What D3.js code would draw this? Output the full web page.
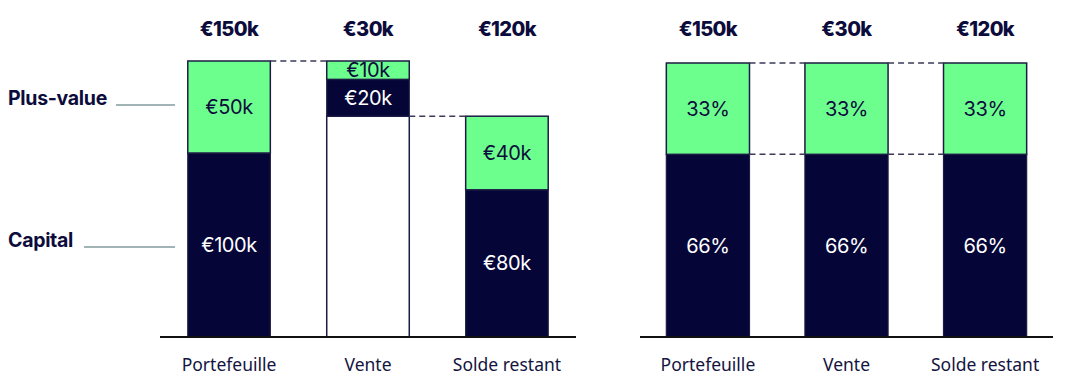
<!DOCTYPE html>
<html><head><meta charset="utf-8">
<script src="https://cdn.jsdelivr.net/npm/d3@7"></script>
<style>body{margin:0;background:#fff;}svg{display:block;}</style>
</head><body>
<svg id="c" width="1068" height="388"></svg>
<script>
const categories = ["Portefeuille", "Vente", "Solde restant"];
const totals = ["€150k", "€30k", "€120k"];
const baseValues = [0, 120, 0];
const capitalValues = [100, 20, 80];
const plusValues = [50, 10, 40];
const capitalLabels = ["€100k", "€20k", "€80k"];
const plusLabels = ["€50k", "€10k", "€40k"];
const capitalShare = [66, 66, 66];
const plusShare = [33, 33, 33];
const shareLabelsCap = ["66%", "66%", "66%"];
const shareLabelsPlus = ["33%", "33%", "33%"];
const seriesNames = ["Plus-value", "Capital"];

const GREEN = "#6cff8e", NAVY = "#050538", STROKE = "#1c1c44", TXT = "#0c0c3c";
const svg = d3.select("#c");
const baseY = 337;

function drawChart(cfg) {
  const x = d3.scaleBand().domain(categories).range(cfg.xr).paddingInner(cfg.pi).paddingOuter(cfg.po);
  const y = d3.scaleLinear().domain([0, cfg.max]).range([baseY, cfg.top]);
  const g = svg.append("g");
  const rows = categories.map((c, i) => {
    const b = cfg.base[i], cap = cfg.cap[i], pl = cfg.plus[i];
    return {c, i, b, cap, pl, y0: b, y1: b + cap, y2: b + cap + pl};
  });
  rows.filter(d => d.b > 0).forEach(d => {
    g.append("rect").attr("x", x(d.c)).attr("width", x.bandwidth())
      .attr("y", y(d.b)).attr("height", y(0) - y(d.b))
      .attr("fill", "#fff").attr("stroke", STROKE).attr("stroke-width", 1.5);
  });
  rows.forEach(d => {
    g.append("rect").attr("x", x(d.c)).attr("width", x.bandwidth())
      .attr("y", y(d.y1)).attr("height", y(d.y0) - y(d.y1))
      .attr("fill", NAVY).attr("stroke", STROKE).attr("stroke-width", 1.2);
  });
  rows.forEach(d => {
    g.append("rect").attr("x", x(d.c)).attr("width", x.bandwidth())
      .attr("y", y(d.y2)).attr("height", y(d.y1) - y(d.y2))
      .attr("fill", GREEN).attr("stroke", STROKE).attr("stroke-width", 1.5);
  });
  rows.forEach(d => {
    const cx = x(d.c) + x.bandwidth() / 2;
    g.append("text").attr("x", cx).attr("y", (y(d.y0) + y(d.y1)) / 2 + 7)
      .attr("text-anchor", "middle").attr("fill", "#fff")
      .style("font", "400 20px Inter, 'DejaVu Sans', sans-serif").style("letter-spacing", "-0.4px").text(cfg.capLabels[d.i]);
    g.append("text").attr("x", cx).attr("y", (y(d.y1) + y(d.y2)) / 2 + 7)
      .attr("text-anchor", "middle").attr("fill", TXT)
      .style("font", "400 20px Inter, 'DejaVu Sans', sans-serif").style("letter-spacing", "-0.4px").text(cfg.plusLabels[d.i]);
    g.append("text").attr("x", cx).attr("y", 36)
      .attr("text-anchor", "middle").attr("fill", TXT)
      .style("font", "800 20px Inter, 'DejaVu Sans', sans-serif").style("letter-spacing", "-0.6px").text(totals[d.i]);
  });
  cfg.connectors.forEach(([i, lvl]) => {
    g.append("line").attr("x1", x(categories[i]) + x.bandwidth()).attr("x2", x(categories[i + 1]))
      .attr("y1", y(lvl)).attr("y2", y(lvl))
      .attr("stroke", "#3a3a58").attr("stroke-width", 1.5).attr("stroke-dasharray", "6,4");
  });
  const ax = g.append("g").attr("transform", `translate(0,${baseY})`)
    .call(d3.axisBottom(x).tickSize(0).tickPadding(22));
  ax.select(".domain").attr("stroke", "#111").attr("stroke-width", 2)
    .attr("d", `M${cfg.xr[0]},0H${cfg.xr[1]}`);
  ax.selectAll("text").attr("fill", "#141440")
    .style("font", "400 17.5px 'Noto Sans', 'Open Sans', sans-serif");
  return {x, y};
}

const left = drawChart({
  xr: [160, 576], pi: 0.406, po: 0.2, max: 150, top: 61,
  base: baseValues, cap: capitalValues, plus: plusValues,
  capLabels: capitalLabels, plusLabels: plusLabels,
  connectors: [[0, 150], [1, 120]]
});
const right = drawChart({
  xr: [640, 1053], pi: 0.4, po: 0.19, max: 99, top: 63,
  base: [0, 0, 0], cap: capitalShare, plus: plusShare,
  capLabels: shareLabelsCap, plusLabels: shareLabelsPlus,
  connectors: [[0, 99], [1, 99], [0, 66], [1, 66]]
});

const legendRows = [
  {name: seriesNames[0], ly: 105, x2: 116},
  {name: seriesNames[1], ly: 247, x2: 84}
];
legendRows.forEach(r => {
  svg.append("text").attr("x", 8).attr("y", r.ly).attr("fill", TXT)
    .style("font", "700 19.5px Inter, 'DejaVu Sans', sans-serif").style("letter-spacing", "-0.3px")
    .text(r.name);
  svg.append("line").attr("x1", r.x2).attr("x2", 175).attr("y1", r.ly).attr("y2", r.ly)
    .attr("stroke", "#47696f").attr("stroke-width", 1);
});
</script>
</body></html>
